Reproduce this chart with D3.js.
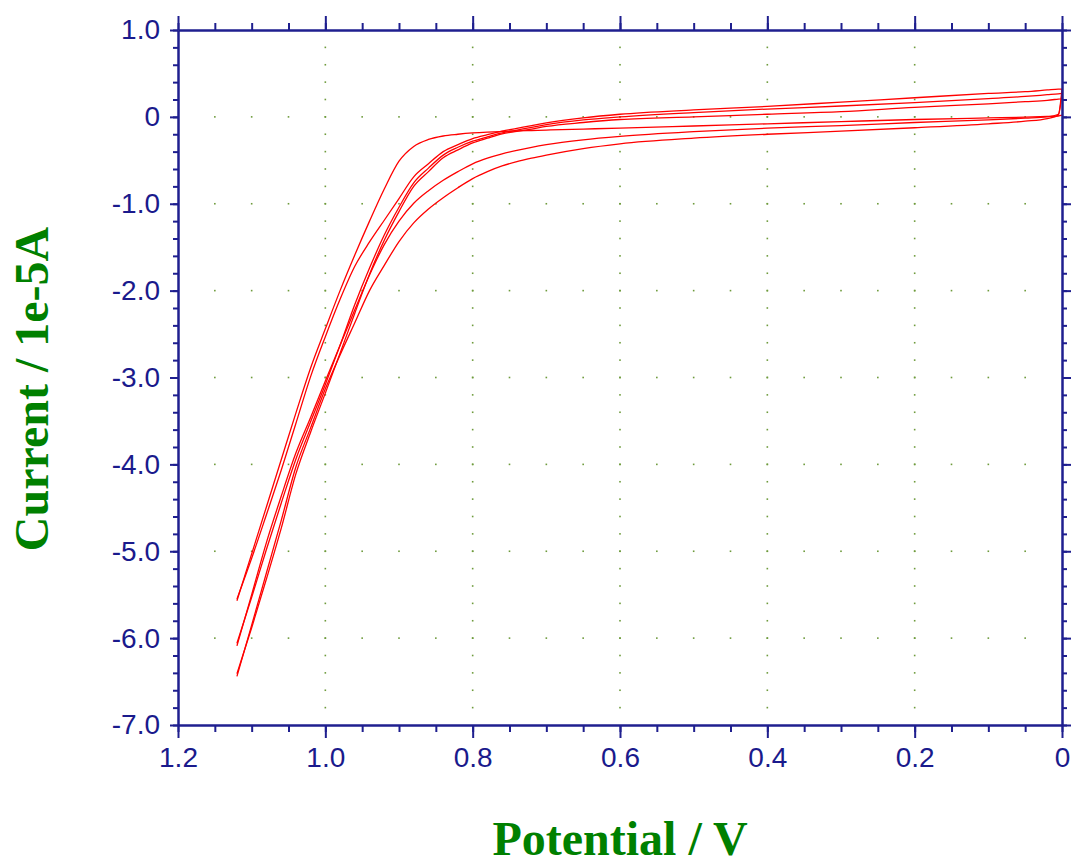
<!DOCTYPE html>
<meta charset="utf-8">
<style>
  body { margin: 0; background: #ffffff; }
  .tick text { font-family: "Liberation Sans", Arial, sans-serif; font-size: 28px; fill: #1a1a8c; }
  .axis path, .axis line { stroke: #1f1f8f; stroke-width: 2; }
</style>
<body>
<script src="https://cdnjs.cloudflare.com/ajax/libs/d3/7.8.5/d3.min.js"></script>
<script>

// potential grid shared by every sweep (V)
var potential = [1.12, 1.10, 1.08, 1.06, 1.04, 1.02, 1.00, 0.98, 0.96, 0.94, 0.92, 0.90,
  0.88, 0.86, 0.84, 0.82, 0.80, 0.78, 0.76, 0.74, 0.72, 0.70, 0.65, 0.60, 0.50, 0.40,
  0.30, 0.20, 0.10, 0.05, 0.02, 0.005, 0.0];

// current (1e-5 A) for each sweep on the grid above
var cycle1Fwd = [-5.57, -5.03, -4.49, -3.95, -3.41, -2.89, -2.44, -2.00, -1.59, -1.20, -0.83, -0.51,
  -0.34, -0.26, -0.22, -0.20, -0.185, -0.175, -0.168, -0.162, -0.157, -0.152, -0.14, -0.13, -0.105, -0.08,
  -0.055, -0.03, -0.012, -0.003, 0.005, 0.01, 0.02];
var cycle1Rev = [-5.55, -5.08, -4.58, -4.07, -3.53, -2.99, -2.53, -2.10, -1.72, -1.44, -1.19, -0.94,
  -0.69, -0.54, -0.40, -0.32, -0.25, -0.205, -0.165, -0.133, -0.10, -0.07, -0.012, 0.03, 0.08, 0.12,
  0.17, 0.22, 0.27, 0.29, 0.31, 0.32, 0.32];
var cycle2Fwd = [-6.09, -5.50, -4.90, -4.37, -3.87, -3.46, -3.04, -2.63, -2.22, -1.82, -1.47, -1.20,
  -0.995, -0.85, -0.73, -0.63, -0.54, -0.475, -0.425, -0.385, -0.35, -0.32, -0.265, -0.225, -0.17, -0.13,
  -0.10, -0.065, -0.035, -0.015, 0.0, 0.03, 0.32];
var cycle2Rev = [-6.06, -5.53, -4.98, -4.45, -3.94, -3.51, -3.08, -2.63, -2.16, -1.74, -1.36, -1.04,
  -0.76, -0.59, -0.44, -0.35, -0.28, -0.23, -0.185, -0.153, -0.12, -0.09, -0.035, 0.0, 0.05, 0.09,
  0.125, 0.165, 0.21, 0.235, 0.255, 0.265, 0.27];
var cycle3Fwd = [-6.44, -5.85, -5.25, -4.65, -4.03, -3.58, -3.13, -2.74, -2.37, -2.00, -1.71, -1.435,
  -1.22, -1.06, -0.93, -0.815, -0.71, -0.63, -0.565, -0.515, -0.475, -0.44, -0.365, -0.31, -0.245, -0.20,
  -0.165, -0.125, -0.08, -0.05, -0.02, 0.02, 0.27];
var cycle3Rev = [-6.41, -5.88, -5.32, -4.74, -4.11, -3.63, -3.18, -2.72, -2.26, -1.81, -1.42, -1.09,
  -0.80, -0.63, -0.47, -0.38, -0.30, -0.245, -0.195, -0.167, -0.14, -0.11, -0.065, -0.03, 0.0, 0.03,
  0.06, 0.11, 0.15, 0.175, 0.19, 0.205, 0.21];

var xTicks = [1.2, 1.0, 0.8, 0.6, 0.4, 0.2, 0];
var yTicks = [1, 0, -1, -2, -3, -4, -5, -6, -7];
var xTitle = "Potential / V";
var yTitle = "Current / 1e-5A";

var W = 1079, H = 867;
var plot = {left: 178, right: 1062, top: 30, bottom: 725};

var svg = d3.select("body").append("svg")
  .attr("width", W)
  .attr("height", H)
  .style("background", "#ffffff");

var x = d3.scaleLinear().domain([1.2, 0]).range([plot.left, plot.right]);
var y = d3.scaleLinear().domain([1, -7]).range([plot.top, plot.bottom]);

// minor tick positions: 0.05 V and 0.2 (1e-5 A)
var xMinor = d3.range(0, 25).map(function(i) { return +(i * 0.05).toFixed(2); });
var yMinor = d3.range(0, 41).map(function(i) { return +(1 - i * 0.2).toFixed(1); });

// plain hyphen for negatives, "0" without decimals
var fmt = function(d) { return d === 0 ? "0" : d.toFixed(1); };

// dotted grid: dots on major lines at every minor step
var grid = svg.append("g").attr("fill", "#6e9b3c");
xTicks.slice(1, -1).forEach(function(xv) {
  yMinor.slice(1, -1).forEach(function(yv) {
    grid.append("rect").attr("x", x(xv) - 0.8).attr("y", y(yv) - 0.8)
      .attr("width", 1.6).attr("height", 1.6);
  });
});
yTicks.slice(1, -1).forEach(function(yv) {
  xMinor.slice(1, -1).forEach(function(xv) {
    grid.append("rect").attr("x", x(xv) - 0.8).attr("y", y(yv) - 0.8)
      .attr("width", 1.6).attr("height", 1.6);
  });
});

// sweeps
var line = d3.line()
  .x(function(d) { return x(d[0]); })
  .y(function(d) { return y(d[1]); })
  .curve(d3.curveMonotoneX);

[cycle1Fwd, cycle1Rev, cycle2Fwd, cycle2Rev, cycle3Fwd, cycle3Rev].forEach(function(s) {
  svg.append("path")
    .datum(potential.map(function(p, i) { return [p, s[i]]; }))
    .attr("fill", "none")
    .attr("stroke", "#ff0000")
    .attr("stroke-width", 1.3)
    .attr("d", line);
});

// axes: minor ticks first, then major ones (labels on bottom and left only)
// bottom
svg.append("g").attr("class", "axis").attr("transform", "translate(0," + plot.bottom + ")")
  .call(d3.axisBottom(x).tickValues(xMinor).tickSize(7).tickSizeOuter(0).tickFormat(""));
svg.append("g").attr("class", "axis").attr("transform", "translate(0," + plot.bottom + ")")
  .call(d3.axisBottom(x).tickValues(xTicks).tickSize(13).tickSizeOuter(0).tickPadding(9).tickFormat(fmt));
// top
svg.append("g").attr("class", "axis").attr("transform", "translate(0," + plot.top + ")")
  .call(d3.axisTop(x).tickValues(xMinor).tickSize(7).tickSizeOuter(0).tickFormat(""));
svg.append("g").attr("class", "axis").attr("transform", "translate(0," + plot.top + ")")
  .call(d3.axisTop(x).tickValues(xTicks).tickSize(14).tickSizeOuter(0).tickFormat(""));
// left
svg.append("g").attr("class", "axis").attr("transform", "translate(" + plot.left + ",0)")
  .call(d3.axisLeft(y).tickValues(yMinor).tickSize(5).tickSizeOuter(0).tickFormat(""));
svg.append("g").attr("class", "axis").attr("transform", "translate(" + plot.left + ",0)")
  .call(d3.axisLeft(y).tickValues(yTicks).tickSize(8).tickSizeOuter(0).tickPadding(10).tickFormat(fmt));
// right
svg.append("g").attr("class", "axis").attr("transform", "translate(" + plot.right + ",0)")
  .call(d3.axisRight(y).tickValues(yMinor).tickSize(5).tickSizeOuter(0).tickFormat(""));
svg.append("g").attr("class", "axis").attr("transform", "translate(" + plot.right + ",0)")
  .call(d3.axisRight(y).tickValues(yTicks).tickSize(9).tickSizeOuter(0).tickFormat(""));

svg.selectAll(".axis .tick text").attr("fill", "#1a1a8c");

// axis titles
svg.append("text")
  .attr("x", 620).attr("y", 855)
  .attr("text-anchor", "middle")
  .style("font-family", "Liberation Serif, 'Times New Roman', serif")
  .style("font-weight", "bold")
  .style("font-size", "48px")
  .style("fill", "#008000")
  .text(xTitle);

svg.append("text")
  .attr("transform", "translate(48,389) rotate(-90)")
  .attr("text-anchor", "middle")
  .style("font-family", "Liberation Serif, 'Times New Roman', serif")
  .style("font-weight", "bold")
  .style("font-size", "48px")
  .style("fill", "#008000")
  .text(yTitle);

</script>
</body>
